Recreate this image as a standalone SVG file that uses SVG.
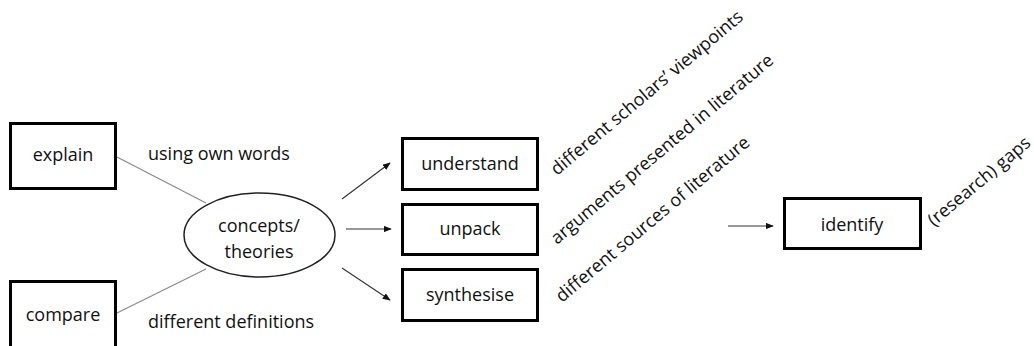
<svg xmlns="http://www.w3.org/2000/svg" width="1034" height="346" viewBox="0 0 1034 346">
  <style>
    .box { fill: #ffffff; stroke: #000000; stroke-width: 3; }
    .oval { fill: #ffffff; stroke: #222222; stroke-width: 1.5; }
    .lbl { font-family: "Open Sans", "Noto Sans", sans-serif; font-size: 18px; fill: #111111; }
    .mid { text-anchor: middle; }
    .link { stroke: #8a8a8a; stroke-width: 1.2; fill: none; }
    .arrow { stroke: #333333; stroke-width: 1.1; fill: none; marker-end: url(#head); }
  </style>
  <defs>
    <marker id="head" viewBox="0 0 10 8" refX="9" refY="4" markerWidth="8" markerHeight="6.4" markerUnits="userSpaceOnUse" orient="auto">
      <path d="M0,0 L10,4 L0,8 Z" fill="#111111"/>
    </marker>
  </defs>
  <rect width="1034" height="346" fill="#ffffff"/>

  <!-- connectors -->
  <g id="connectors">
    <line class="link" x1="117" y1="157" x2="206" y2="203"/>
    <line class="link" x1="117" y1="313" x2="206" y2="269"/>
    <line class="arrow" x1="342" y1="199" x2="390" y2="163"/>
    <line class="arrow" x1="346" y1="229" x2="391" y2="229"/>
    <line class="arrow" x1="342" y1="268" x2="390" y2="300"/>
    <line class="arrow" x1="728" y1="226" x2="773" y2="226"/>
  </g>

  <!-- left-hand tasks -->
  <g id="node-explain">
    <rect class="box" x="10.5" y="123.5" width="105" height="65"/>
    <text class="lbl mid" x="63" y="161">explain</text>
  </g>
  <g id="node-compare">
    <rect class="box" x="10.5" y="281.5" width="105" height="70"/>
    <text class="lbl mid" x="63" y="321">compare</text>
  </g>

  <!-- edge notes -->
  <text class="lbl" x="148" y="160">using own words</text>
  <text class="lbl" x="148" y="328">different definitions</text>

  <!-- central idea -->
  <g id="node-concepts">
    <ellipse class="oval" cx="259.5" cy="235" rx="75.5" ry="42"/>
    <text class="lbl mid" x="259" y="232">concepts/</text>
    <text class="lbl mid" x="259" y="258">theories</text>
  </g>

  <!-- reading actions -->
  <g id="node-understand">
    <rect class="box" x="402.5" y="138.5" width="135" height="51"/>
    <text class="lbl mid" x="470" y="170">understand</text>
  </g>
  <g id="node-unpack">
    <rect class="box" x="402.5" y="204.5" width="135" height="50"/>
    <text class="lbl mid" x="470" y="235">unpack</text>
  </g>
  <g id="node-synthesise">
    <rect class="box" x="402.5" y="269.5" width="135" height="51"/>
    <text class="lbl mid" x="470" y="301">synthesise</text>
  </g>

  <!-- slanted notes -->
  <text class="lbl" transform="translate(557,176) rotate(-40)">different scholars’ viewpoints</text>
  <text class="lbl" transform="translate(557,245) rotate(-40)">arguments presented in literature</text>
  <text class="lbl" transform="translate(562,303) rotate(-40)">different sources of literature</text>

  <!-- outcome -->
  <g id="node-identify">
    <rect class="box" x="784.5" y="198.5" width="136" height="50"/>
    <text class="lbl mid" x="852" y="231">identify</text>
  </g>
  <text class="lbl" transform="translate(934,227) rotate(-40)">(research) gaps</text>
</svg>
